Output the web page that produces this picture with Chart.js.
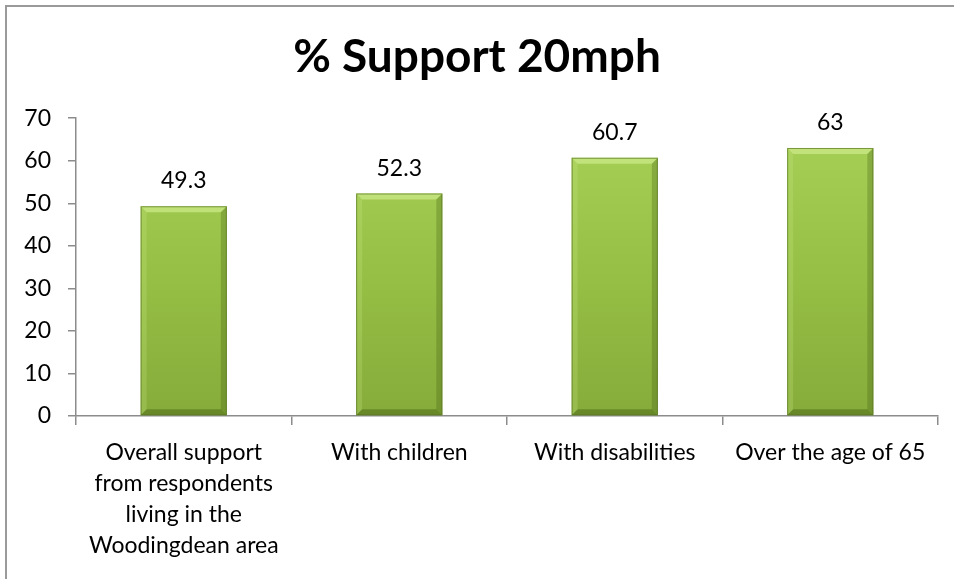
<!DOCTYPE html>
<html>
<head>
<meta charset="utf-8">
<script src="https://cdn.jsdelivr.net/npm/chart.js@4/dist/chart.umd.min.js"></script>
<style>
  html, body { margin: 0; padding: 0; background: #fff; }
  #wrap { width: 954px; height: 579px; position: relative; }
</style>
</head>
<body>
<div id="wrap"><canvas id="chart" width="954" height="579"></canvas></div>
<script>
// Chart data
const titleText = '% Support 20mph';
const categories = [
    ['Overall support', 'from respondents', 'living in the', 'Woodingdean area'],
    'With children',
    'With disabilities',
    'Over the age of 65'
];
const supportValues = [49.3, 52.3, 60.7, 63];
const yTicks = [0, 10, 20, 30, 40, 50, 60, 70];

const FONT = 'Lato, "Open Sans", sans-serif';
const axisColor = '#8c8c8c';

// outer frame (only top/left are visible in the original crop)
const framePlugin = {
    id: 'frame',
    beforeDraw(chart) {
        const c = chart.ctx;
        c.save();
        c.strokeStyle = '#9a9a9a';
        c.lineWidth = 2;
        c.beginPath();
        c.moveTo(6, chart.height);
        c.lineTo(6, 6);
        c.lineTo(chart.width, 6);
        c.stroke();
        c.restore();
    }
};

// bevel edges + value labels on top of each bar
const barDecor = {
    id: 'barDecor',
    afterDatasetsDraw(chart) {
        const c = chart.ctx;
        const meta = chart.getDatasetMeta(0);
        meta.data.forEach((bar, i) => {
            const p = bar.getProps(['x', 'y', 'base', 'width'], true);
            const l = p.x - p.width / 2, r = p.x + p.width / 2;
            const t = p.y, b = p.base, e = 6;
            c.save();
            // top bevel
            c.fillStyle = 'rgba(215,240,150,0.6)';
            c.beginPath();
            c.moveTo(l, t); c.lineTo(r, t); c.lineTo(r - e, t + e); c.lineTo(l + e, t + e);
            c.closePath(); c.fill();
            // left bevel
            c.fillStyle = 'rgba(200,230,130,0.25)';
            c.beginPath();
            c.moveTo(l, t); c.lineTo(l + e, t + e); c.lineTo(l + e, b - e); c.lineTo(l, b);
            c.closePath(); c.fill();
            // right bevel
            c.fillStyle = 'rgba(70,95,20,0.3)';
            c.beginPath();
            c.moveTo(r, t); c.lineTo(r - e, t + e); c.lineTo(r - e, b - e); c.lineTo(r, b);
            c.closePath(); c.fill();
            // bottom bevel
            c.fillStyle = 'rgba(60,85,15,0.4)';
            c.beginPath();
            c.moveTo(l, b); c.lineTo(l + e, b - e); c.lineTo(r - e, b - e); c.lineTo(r, b);
            c.closePath(); c.fill();
            c.strokeStyle = 'rgba(90,120,35,0.7)';
            c.lineWidth = 1;
            c.strokeRect(l + 0.5, t + 0.5, p.width - 1, b - t - 1);

            // value label
            c.fillStyle = '#000';
            c.font = '23px ' + FONT;
            c.textAlign = 'center';
            c.textBaseline = 'alphabetic';
            c.fillText(String(supportValues[i]), p.x, t - 18);
            c.restore();
        });
    }
};

const ctx = document.getElementById('chart').getContext('2d');
new Chart(ctx, {
    type: 'bar',
    data: {
        labels: categories,
        datasets: [{
            data: supportValues,
            backgroundColor: (context) => {
                const area = context.chart.chartArea;
                if (!area) { return '#94bf45'; }
                const g = context.chart.ctx.createLinearGradient(0, area.top, 0, area.bottom);
                g.addColorStop(0, '#a8d158');
                g.addColorStop(0.5, '#97c146');
                g.addColorStop(1, '#86ab3a');
                return g;
            },
            borderWidth: 0,
            categoryPercentage: 1,
            barPercentage: 0.4
        }]
    },
    options: {
        responsive: false,
        animation: false,
        devicePixelRatio: 1,
        layout: { padding: { left: 16, right: 16, top: 0, bottom: 0 } },
        plugins: {
            legend: { display: false },
            tooltip: { enabled: false },
            title: {
                display: true,
                text: titleText,
                color: '#000',
                font: { family: FONT, size: 46, weight: 'bold' },
                padding: { top: 30, bottom: 33 }
            }
        },
        scales: {
            x: {
                grid: {
                    offset: true,
                    drawOnChartArea: false,
                    drawTicks: true,
                    tickLength: 9,
                    color: axisColor,
                    lineWidth: 1.5
                },
                border: { color: axisColor, width: 1.5 },
                ticks: {
                    color: '#000',
                    maxRotation: 0,
                    autoSkip: false,
                    padding: 12,
                    font: { family: FONT, size: 23, lineHeight: '31px' }
                },
                afterFit: (scale) => { scale.height = 579 - 416; }
            },
            y: {
                min: 0,
                max: 70,
                afterBuildTicks: (scale) => { scale.ticks = yTicks.map(v => ({ value: v })); },
                grid: {
                    drawOnChartArea: false,
                    drawTicks: true,
                    tickLength: 8,
                    color: axisColor,
                    lineWidth: 1.5
                },
                border: { color: axisColor, width: 1.5 },
                ticks: {
                    color: '#000',
                    padding: 17,
                    font: { family: FONT, size: 23 }
                },
                afterFit: (scale) => { scale.width = 60; }
            }
        }
    },
    plugins: [framePlugin, barDecor]
});
</script>
</body>
</html>
